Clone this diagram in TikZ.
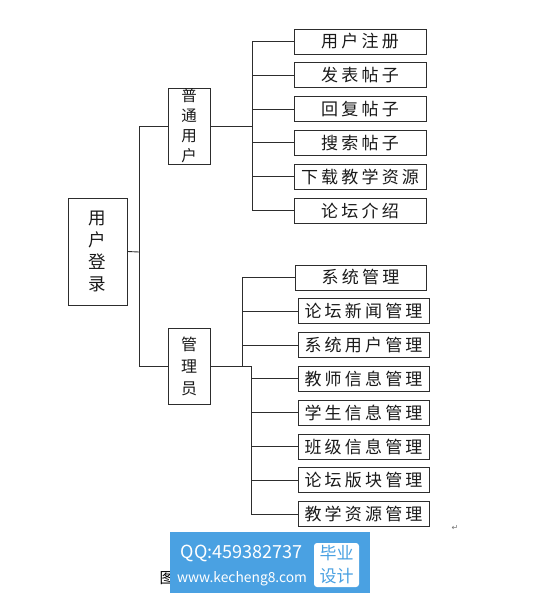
\documentclass[tikz,border=0pt]{standalone}
\usepackage{fontspec}
\newfontfamily\cjk{Noto Sans CJK SC}
\newfontfamily\symf{DejaVu Sans}
\newlength\cjkgap
\setlength\cjkgap{3.2pt}
\def\spc#1{\spcfirst#1\relax}
\def\spcfirst#1{#1\spcrest}
\def\spcrest#1{\ifx#1\relax\else\kern\cjkgap#1\expandafter\spcrest\fi}
\definecolor{wmblue}{RGB}{74,161,226}
\definecolor{ln}{RGB}{45,45,45}
\tikzset{
  leaf/.style={draw=ln, line width=1pt, minimum width=132pt, minimum height=25pt, inner sep=0pt, font=\cjk\fontsize{17}{20}\selectfont, text=black!90},
  vbox/.style={draw=ln, line width=1pt, inner sep=0pt, align=center, text=black!90},
  conn/.style={draw=ln, line width=0.9pt},
}
\begin{document}
\begin{tikzpicture}[x=1pt,y=-1pt]
\useasboundingbox (0,0) rectangle (540,598);
% root and second level
\node[vbox, minimum width=59pt, minimum height=107pt, font=\cjk\fontsize{17.5}{22}\selectfont] (root) at (97.5,251.5) {用\\户\\登\\录};
\node[vbox, minimum width=42pt, minimum height=76pt, font=\cjk\fontsize{15.5}{20}\selectfont] (A) at (189,126) {普\\通\\用\\户};
\node[vbox, minimum width=42pt, minimum height=76pt, font=\cjk\fontsize{16}{22}\selectfont] (B) at (189,366) {管\\理\\员};
% user leaves
\node[leaf] (u1) at (360,41.5) {\spc{用户注册}};
\node[leaf] (u2) at (360,75.3) {\spc{发表帖子}};
\node[leaf] (u3) at (360,109.1) {\spc{回复帖子}};
\node[leaf] (u4) at (360,142.9) {\spc{搜索帖子}};
\node[leaf] (u5) at (360,176.7) {\spc{下载教学资源}};
\node[leaf] (u6) at (360,210.5) {\spc{论坛介绍}};
% admin leaves
\node[leaf, minimum width=131pt] (m1) at (360.5,277.5) {\spc{系统管理}};
\node[leaf, minimum width=131pt] (m2) at (363.5,311.3) {\spc{论坛新闻管理}};
\node[leaf, minimum width=131pt] (m3) at (363.5,345.1) {\spc{系统用户管理}};
\node[leaf, minimum width=131pt] (m4) at (363.5,378.9) {\spc{教师信息管理}};
\node[leaf, minimum width=131pt] (m5) at (363.5,412.7) {\spc{学生信息管理}};
\node[leaf, minimum width=131pt] (m6) at (363.5,446.5) {\spc{班级信息管理}};
\node[leaf, minimum width=131pt] (m7) at (363.5,480.3) {\spc{论坛版块管理}};
\node[leaf, minimum width=131pt] (m8) at (363.5,514.1) {\spc{教学资源管理}};
% junctions
\coordinate (j0) at (139,252);
\coordinate (ju) at (252,126);
\coordinate (ja) at (242,366);
\coordinate (jb) at (251,366);
% root connectors
\draw[conn] (root.east) -- (j0);
\draw[conn] (A.west) -- (A.west -| j0) -- (B.west -| j0) -- (B.west);
% user connectors
\draw[conn] (A.east) -- (ju);
\draw[conn] (u1.west -| ju) -- (u6.west -| ju);
\foreach \n in {u1,u2,u3,u4,u5,u6} \draw[conn] (\n.west -| ju) -- (\n.west);
% admin connectors
\draw[conn] (B.east) -- (jb);
\draw[conn] (m1.west -| ja) -- (ja);
\draw[conn] (jb) -- (m8.west -| jb);
\foreach \n in {m1,m2,m3} \draw[conn] (\n.west -| ja) -- (\n.west);
\foreach \n in {m4,m5,m6,m7,m8} \draw[conn] (\n.west -| jb) -- (\n.west);
% return mark
\node[font=\symf\fontsize{8}{8}\selectfont, text=black!55, inner sep=0pt] (ret) at (455,528) {↵};
% caption fragment and watermark
\node[font=\cjk\fontsize{15}{15}\selectfont, inner sep=0pt] (cap) at (167,578) {图};
\node[fill=wmblue, minimum width=200pt, minimum height=61pt, inner sep=0pt] (wm) at (270,562.5) {};
\node[fill=white, rounded corners=3pt, minimum width=45pt, minimum height=44pt, inner sep=0pt] (wb) at (336.5,565) {};
\node[font=\cjk\fontsize{17}{23}\selectfont, text=wmblue, align=center, inner sep=0pt] (wt) at (wb) {毕业\\设计};
\node[font=\cjk, text=white, inner sep=0pt] (qq) at (242,553) {\resizebox{122pt}{!}{QQ:459382737}};
\node[font=\cjk, text=white, inner sep=0pt] (web) at (242,579) {\resizebox{130pt}{!}{www.kecheng8.com}};
\end{tikzpicture}
\end{document}
